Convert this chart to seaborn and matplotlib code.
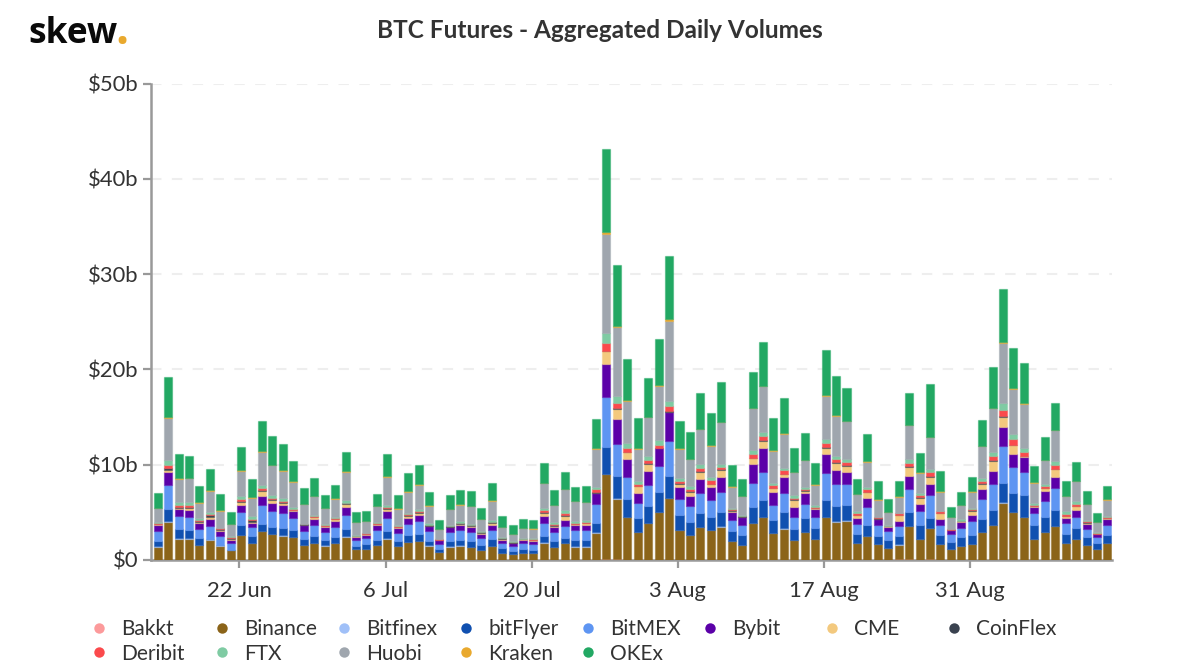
import numpy as np
import pandas as pd
import matplotlib
matplotlib.use("Agg")
import matplotlib.pyplot as plt
from matplotlib.colors import to_rgba
from matplotlib.lines import Line2D
import seaborn as sns

exchanges = ["Bakkt","Binance","Bitfinex","bitFlyer","BitMEX","Bybit","CME","CoinFlex","Deribit","FTX","Huobi","Kraken","OKEx"]
colors = ["#FC9A9B","#8B6419","#A0C0F8","#1050B0","#5E95F2","#5B00A8","#F3C97E","#3A424F","#FB4A4C","#7FCBA3","#9FA6AE","#E9A92E","#22A863"]
tick_days = [8,22,36,50,64,78]
tick_labels = ["22 Jun","6 Jul","20 Jul","3 Aug","17 Aug","31 Aug"]
y_ticks = [0,10,20,30,40,50]
y_labels = ["$0","$10b","$20b","$30b","$40b","$50b"]

bakkt = [0,0,0,0,0,0,0,0,0,0,0,0,0,0,0,0,0,0,0,0,0,0,0,0,0,0,0,0,0,0,0,0,0,0,0,0,0,0,0,0,0,0,0,.07,.07,.03,.02,.05,.02,.02,.05,.03,.02,.02,.03,.02,.02,.03,.03,.02,.02,.02,.02,.02,.05,.05,.03,.02,.02,.02,.02,.07,.07,.05,.07,.02,.02,.02,.02,.05,.05,.05,.05,.02,.02,.02,.03,.02,.05,.02,.02,.02]
binance = [1.40,4.03,2.24,2.24,1.58,2.14,1.51,1.09,2.63,1.75,3.01,2.73,2.56,2.38,1.54,1.75,1.51,1.75,2.45,1.12,1.16,1.58,2.24,1.44,1.86,2.00,1.51,0.81,1.40,1.51,1.33,1.09,1.47,0.77,0.60,0.70,0.70,1.82,1.33,1.75,1.40,1.40,2.87,8.93,6.34,4.48,2.87,3.85,4.97,6.44,3.08,2.59,3.43,3.08,3.47,1.96,1.58,3.82,4.45,2.80,3.26,2.10,2.91,2.17,4.48,3.96,4.10,1.79,2.49,1.61,1.19,1.54,3.50,2.17,3.26,1.61,1.09,1.44,1.68,2.84,3.64,5.95,4.97,4.48,2.14,2.87,3.50,1.75,2.17,1.54,1.12,1.75]
bitfinex = [.02,.03,.02,.02,.02,.02,.02,.01,.03,.02,.03,.02,.02,.02,.02,.02,.02,.02,.02,.01,.01,.02,.02,.02,.02,.02,.02,.01,.02,.02,.02,.01,.02,.01,.01,.01,.01,.02,.02,.02,.02,.02,.03,.05,.05,.03,.03,.03,.03,.05,.03,.03,.03,.03,.03,.02,.02,.03,.03,.02,.03,.02,.03,.02,.03,.03,.03,.02,.02,.02,.01,.02,.03,.02,.03,.02,.01,.02,.02,.02,.03,.05,.03,.03,.02,.02,.03,.02,.02,.02,.01,.02]
bitflyer = [.60,1.33,1.02,.84,.74,0,0,0,.98,.70,.77,.74,.81,.74,.67,.77,.60,.67,.74,.39,.46,.53,.74,.56,.70,.74,.49,.35,.60,.60,.67,.49,.67,.49,.35,.46,.39,.70,.60,.56,.70,.70,1.02,2.80,2.38,1.86,1.44,1.75,2.10,2.31,1.58,1.37,1.47,1.37,1.47,1.02,.98,1.68,1.79,1.33,1.72,1.16,1.44,1.16,1.75,1.58,1.61,.95,1.12,.91,.84,.88,1.47,1.40,1.09,.95,.77,.91,.95,1.40,1.54,2.03,2.00,2.28,1.47,1.58,1.68,.91,1.12,.81,.60,.84]
bitmex = [1.05,2.45,1.37,1.44,.95,1.37,1.02,.70,1.44,.95,1.96,1.61,1.54,1.26,.84,1.16,.84,1.05,1.54,.60,.67,1.02,1.44,.84,1.23,1.33,1.02,.56,.91,1.02,.95,.77,.98,.53,.56,.60,.60,1.37,1.02,1.26,1.02,1.05,1.93,5.22,3.36,2.28,1.58,2.17,2.70,3.68,1.65,1.65,2.03,1.82,2.17,1.16,1.12,2.52,2.98,1.65,2.00,1.26,1.44,1.19,2.77,2.35,2.17,1.05,1.86,1.09,.95,1.05,2.38,1.47,2.38,1.12,.81,1.02,1.37,2.10,2.70,3.85,2.66,2.45,1.23,1.75,2.28,1.23,1.19,.88,.63,1.09]
bybit = [.60,1.37,.67,.74,.56,.81,.53,.32,.74,.42,.98,.84,.84,.77,.56,.63,.46,.56,.77,.32,.32,.53,.67,.46,.56,.67,.49,.32,.53,.49,.53,.32,.56,.35,.25,.32,.32,.74,.53,.63,.49,.53,1.19,3.50,2.56,1.89,1.09,1.47,1.89,2.98,1.26,1.02,1.47,1.30,1.54,.88,.74,2.00,2.49,1.30,1.65,1.05,1.19,.77,2.03,1.47,1.26,.56,.98,.63,.49,.56,1.40,.77,1.16,.63,.42,.60,.63,1.02,1.40,2.07,1.44,1.58,.70,.95,1.16,.46,.67,.46,.32,.53]
cme = [.07,.28,.18,.18,.14,.21,.11,.11,.28,.18,.53,.35,.21,.07,.07,.14,.11,.21,.35,.04,.11,.11,.25,.11,.21,.18,.07,.04,.04,.14,.11,.14,.18,.07,.04,.07,.07,.32,.11,.35,.14,.14,.04,1.33,1.09,.74,.70,.74,.04,.04,.32,.46,.77,.32,.74,.11,.07,.63,.74,.39,.35,.67,.25,.11,.63,.74,.70,.28,.60,.07,.04,.56,.95,.63,.74,.56,.04,.04,.46,.56,1.05,1.02,.91,.07,.04,.32,.84,.18,.42,.18,.04,.14]
coinflex = [.04,.18,.11,.14,.11,.14,.07,.11,.11,.18,.11,.07,.11,.04,.04,.07,.07,.07,.07,.04,.04,.04,.11,.07,.11,.07,.04,.04,.04,.07,.04,.07,.07,.07,.04,.04,.04,.11,.07,.11,.04,.04,.04,0,.11,.04,.07,.07,.04,.11,.07,.07,.07,.07,.07,.07,.04,.04,.04,.07,.04,.11,.04,.04,.07,.07,.07,.04,.07,.04,.04,.07,.07,.07,.07,.07,.04,.04,.07,.07,.04,.07,.04,.04,.04,.04,.07,.04,.04,.04,.04,.04]
deribit = [.07,.35,.18,.21,.14,.18,.07,.07,.21,.14,.21,.18,.14,.11,.04,.04,.07,.04,.07,.04,.04,.07,.14,.07,.11,.14,.07,.04,.04,.07,.07,.07,.07,.04,.04,.04,.07,.21,.11,.21,.11,.11,.28,.91,.56,.35,.18,.35,.28,.53,.28,.18,.32,.35,.28,.07,.07,.39,.49,.25,.35,.11,.11,.07,.46,.35,.28,.18,.25,.07,.04,.14,.35,.21,.39,.14,.04,.04,.11,.28,.42,.70,.60,.39,.14,.21,.39,.25,.18,.18,.04,.07]
ftx = [.11,.49,.28,.25,.18,.18,.04,.07,.25,.25,.25,.25,.28,.14,.04,.14,.07,.14,.25,.07,.04,.07,.18,.11,.14,.21,.18,.04,.11,.18,.07,.07,.18,.11,.07,.11,.07,.14,.18,.32,.21,.18,.28,.98,.74,.60,.35,.46,.53,.53,.25,.32,.42,.35,.32,.18,.11,.42,.42,.28,.28,.28,.18,.25,.46,.35,.32,.21,.28,.07,.04,.07,.35,.21,.35,.07,.04,.14,.14,.28,.49,.67,.53,.46,.21,.18,.42,.28,.28,.07,.14,.14]
huobi = [1.51,4.41,2.45,2.52,1.61,2.21,1.82,1.33,2.70,1.96,3.47,3.15,2.84,2.66,2.07,2.00,1.72,1.93,2.98,1.37,1.26,1.65,2.94,1.72,2.21,2.52,1.82,1.05,1.68,1.72,1.86,1.30,2.00,1.05,.77,1.02,1.02,2.66,1.82,2.24,2.03,1.93,3.99,10.40,7.18,4.41,3.33,4.03,5.71,8.44,3.12,2.87,3.71,3.29,4.31,2.21,1.93,4.34,4.76,3.36,3.54,2.42,2.84,2.10,4.52,4.20,3.99,1.79,2.63,1.79,1.40,1.68,3.57,2.17,3.33,1.96,1.26,1.51,1.72,3.29,4.55,6.30,4.73,4.62,2.10,2.52,3.19,1.58,2.10,1.68,1.05,1.68]
kraken = [.02,.07,.05,.05,.03,.05,.03,.02,.05,.03,.07,.05,.05,.05,.03,.03,.03,.03,.05,.02,.02,.03,.05,.03,.05,.05,.03,.02,.03,.03,.03,.02,.05,.02,.02,.02,.02,.03,.03,.05,.03,.03,.05,.25,.10,.07,.05,.07,.07,.18,.05,.05,.05,.05,.07,.03,.03,.07,.07,.05,.05,.05,.05,.03,.07,.07,.05,.03,.05,.03,.02,.03,.07,.05,.07,.05,.02,.03,.03,.05,.07,.14,.07,.07,.03,.05,.07,.03,.05,.03,.02,.03]
okex = [1.49,4.20,2.58,2.30,1.69,2.19,1.69,1.24,2.44,1.93,3.19,3.00,2.72,2.16,1.65,1.83,1.27,1.44,2.02,1.03,1.00,1.30,2.33,1.34,1.95,2.02,1.44,.93,1.44,1.48,1.58,1.14,1.88,1.07,.89,.93,.89,2.07,1.51,1.77,1.51,1.62,3.10,8.67,6.41,4.31,3.14,4.03,4.80,6.58,2.86,2.75,3.70,3.35,4.13,2.25,1.76,3.75,4.59,3.35,3.66,2.54,2.79,2.28,4.73,4.10,3.45,1.62,2.86,1.97,1.28,1.58,3.33,2.05,5.53,2.12,.96,1.30,1.48,2.72,4.24,5.57,4.20,4.17,1.72,2.37,2.80,1.55,1.95,1.30,.86,1.37]

series = [bakkt,binance,bitfinex,bitflyer,bitmex,bybit,cme,coinflex,deribit,ftx,huobi,kraken,okex]
days = list(range(len(binance)))

sns.set_theme(style="white")
plt.rcParams["font.family"] = ["Lato", "DejaVu Sans"]

fig = plt.figure(figsize=(12, 6.7), dpi=100)
W, H = 1200, 670
ax = fig.add_axes([151/W, 1-560/H, (1112-151)/W, (560-83.5)/H])

bottom = np.zeros(len(days))
for name, vals, col in zip(exchanges, series, colors):
    v = np.array(vals, float)
    sns.barplot(x=days, y=v, bottom=bottom, color=col, saturation=1, width=0.77,
                edgecolor=to_rgba(col, 0.45), linewidth=0.9, ax=ax, label=name, legend=False, zorder=3)
    bottom = bottom + v

ax.set_xlim(-0.64, 91.44)
ax.set_ylim(0, 50)
ax.set_xlabel(""); ax.set_ylabel("")
ax.set_xticks([d - 0.17 for d in tick_days])
ax.set_xticklabels(tick_labels)
ax.set_yticks(y_ticks)
ax.set_yticklabels(y_labels)
ax.grid(axis="y", color="#eeeeee", linestyle=(0, (5, 5)), linewidth=1.5, zorder=0)
ax.grid(axis="x", visible=False)
ax.set_axisbelow(True)
for s in ["top", "right"]:
    ax.spines[s].set_visible(False)
for s in ["left", "bottom"]:
    ax.spines[s].set_color("#999999")
    ax.spines[s].set_linewidth(1.8)
ax.tick_params(axis="both", which="major", length=5.5, width=1.6, color="#999999",
               bottom=True, left=True, labelcolor="#333333", labelsize=15.8)
ax.tick_params(axis="x", pad=9.5)
ax.tick_params(axis="y", pad=3.5)

fig.text(600/W, 1-31/H, "BTC Futures - Aggregated Daily Volumes", ha="center", va="center",
         fontsize=17.6, fontweight="bold", color="#333333")
fig.text(28/W, 1-43/H, "skew", ha="left", va="baseline", fontsize=25.5, fontweight="bold",
         family="Open Sans", color="#0a0a0a")
fig.text(115/W, 1-43.5/H, ".", ha="left", va="baseline", fontsize=33, fontweight="bold",
         family="Open Sans", color="#E9A92E")

col_x = [99, 222, 344, 466, 588, 710, 832, 954]
columns = [[0, 8], [1, 9], [2, 10], [3, 11], [4, 12], [5], [6], [7]]
for x, idx in zip(col_x, columns):
    handles = [Line2D([], [], linestyle="none", marker="o", markersize=7.5,
                      markerfacecolor=colors[i], markeredgecolor="none") for i in idx]
    fig.legend(handles, [exchanges[i] for i in idx], loc="upper left",
               bbox_to_anchor=((x - 12)/W, 1-(619)/H), bbox_transform=fig.transFigure,
               frameon=False, fontsize=15, labelcolor="#333333", borderpad=0, borderaxespad=0,
               handletextpad=0.5, handlelength=1.15, labelspacing=0.22)

fig.savefig("out.png", dpi=100)
